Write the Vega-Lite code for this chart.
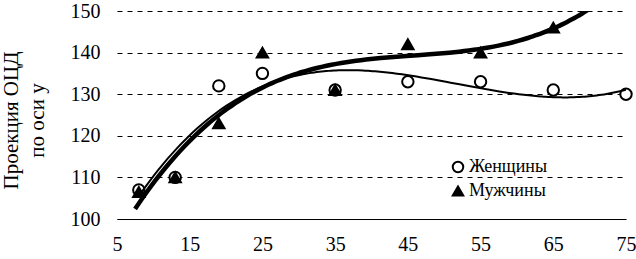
{
  "$schema": "https://vega.github.io/schema/vega-lite/v6.json",
  "width": 509,
  "height": 208,
  "autosize": {"type": "none"},
  "padding": {"left": 117, "top": 11, "right": 10, "bottom": 40},
  "background": "white",
  "config": {
    "view": {"stroke": null},
    "font": "Liberation Serif"
  },
  "data": {
    "values": [
      {"age": 8, "v": 107, "s": "Женщины"},
      {"age": 13, "v": 110, "s": "Женщины"},
      {"age": 19, "v": 132, "s": "Женщины"},
      {"age": 25, "v": 135, "s": "Женщины"},
      {"age": 35, "v": 131, "s": "Женщины"},
      {"age": 45, "v": 133, "s": "Женщины"},
      {"age": 55, "v": 133, "s": "Женщины"},
      {"age": 65, "v": 131, "s": "Женщины"},
      {"age": 75, "v": 130, "s": "Женщины"},
      {"age": 8, "v": 106.5, "s": "Мужчины"},
      {"age": 13, "v": 110, "s": "Мужчины"},
      {"age": 19, "v": 123, "s": "Мужчины"},
      {"age": 25, "v": 140, "s": "Мужчины"},
      {"age": 35, "v": 131, "s": "Мужчины"},
      {"age": 45, "v": 142, "s": "Мужчины"},
      {"age": 55, "v": 140, "s": "Мужчины"},
      {"age": 65, "v": 146, "s": "Мужчины"}
    ]
  },
  "layer": [
    {
      "mark": {"type": "point", "filled": true, "stroke": "black", "strokeWidth": 2, "size": 130, "opacity": 1, "fillOpacity": 1, "strokeOpacity": 1},
      "encoding": {
        "x": {
          "field": "age", "type": "quantitative",
          "scale": {"domain": [5, 75], "nice": false, "zero": false},
          "axis": {
            "values": [5, 15, 25, 35, 45, 55, 65, 75],
            "title": null, "grid": false, "ticks": false, "tickSize": 0,
            "domainColor": "black", "domainWidth": 1,
            "labelFont": "Liberation Serif", "labelFontSize": 20, "labelColor": "black",
            "labelPadding": 15, "labelFlush": false
          }
        },
        "y": {
          "field": "v", "type": "quantitative",
          "scale": {"domain": [100, 150], "nice": false, "zero": false},
          "axis": {
            "values": [100, 110, 120, 130, 140, 150],
            "title": ["Проекция ОЦД", "по оси y"],
            "titleFont": "Liberation Serif", "titleFontSize": 21, "titleFontWeight": "normal",
            "titleColor": "black", "titleAngle": -90, "titleX": -117, "titleY": 109,
            "titleAlign": "center", "titleBaseline": "top", "titleLineHeight": 26,
            "domain": false, "ticks": false, "tickSize": 0,
            "grid": true, "gridColor": "black", "gridDash": [5, 5], "gridWidth": 1, "gridOpacity": 1,
            "labelFont": "Liberation Serif", "labelFontSize": 20, "labelColor": "black",
            "labelPadding": 17
          }
        },
        "shape": {
          "field": "s", "type": "nominal",
          "scale": {"domain": ["Женщины", "Мужчины"], "range": ["circle", "triangle-up"]},
          "legend": {
            "title": null, "orient": "none", "legendX": 332, "legendY": 147,
            "labelFont": "Liberation Serif", "labelFontSize": 18, "labelColor": "black",
            "symbolSize": 110, "symbolStrokeWidth": 2, "symbolOpacity": 1, "rowPadding": 5, "labelOffset": 2
          }
        },
        "fill": {
          "field": "s", "type": "nominal",
          "scale": {"domain": ["Женщины", "Мужчины"], "range": ["white", "black"]},
          "legend": null
        },
        "order": {"field": "s", "sort": "ascending"}
      }
    },
    {
      "transform": [
        {"filter": "datum.s === 'Мужчины'"},
        {"regression": "v", "on": "age", "method": "poly", "order": 3, "extent": [7.5, 75]}
      ],
      "mark": {"type": "line", "color": "black", "strokeWidth": 4.5, "clip": true, "interpolate": "monotone"},
      "encoding": {
        "x": {"field": "age", "type": "quantitative"},
        "y": {"field": "v", "type": "quantitative"}
      }
    },
    {
      "transform": [
        {"filter": "datum.s === 'Женщины'"},
        {"regression": "v", "on": "age", "method": "poly", "order": 3, "extent": [8, 75]}
      ],
      "mark": {"type": "line", "color": "black", "strokeWidth": 2, "clip": true, "interpolate": "monotone"},
      "encoding": {
        "x": {"field": "age", "type": "quantitative"},
        "y": {"field": "v", "type": "quantitative"}
      }
    }
  ]
}
